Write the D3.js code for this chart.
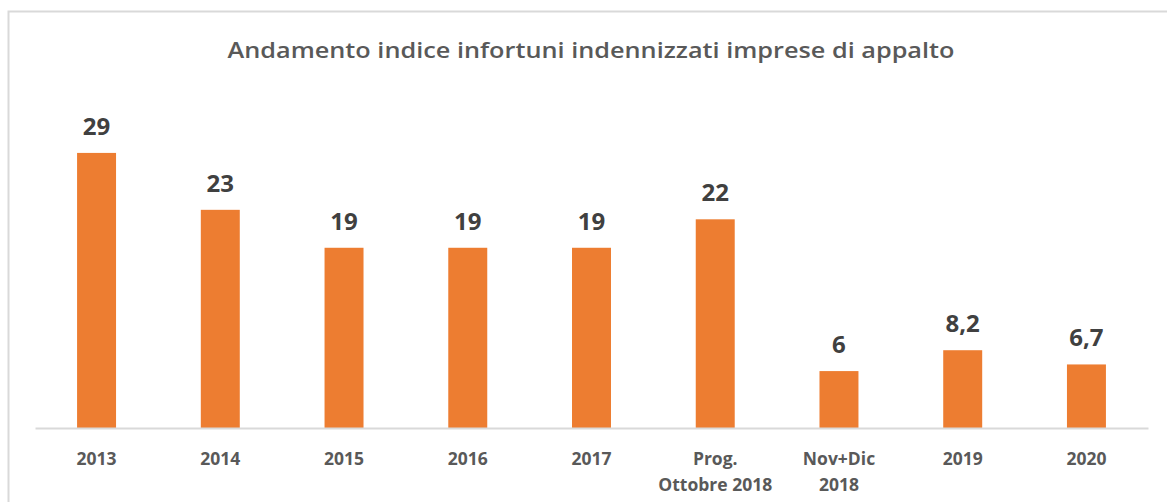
<!DOCTYPE html>
<html>
<head>
<meta charset="utf-8">
<script src="https://cdn.jsdelivr.net/npm/d3@7"></script>
<style>
  body { margin: 0; background: #fff; }
  text { font-family: "Open Sans", "Liberation Sans", sans-serif; }
</style>
</head>
<body>
<svg id="chart"></svg>
<script>
// categories (multi-line labels split on \n)
const categories = ['2013', '2014', '2015', '2016', '2017', 'Prog.\nOttobre 2018', 'Nov+Dic\n2018', '2019', '2020'];
const values = [29, 23, 19, 19, 19, 22, 6, 8.2, 6.7];
const valueLabels = ['29', '23', '19', '19', '19', '22', '6', '8,2', '6,7'];

const width = 1167;
const height = 502;

const svg = d3.select('#chart')
  .attr('width', width)
  .attr('height', height);

// chart frame (right and bottom fall outside the picture)
svg.append('rect')
  .attr('x', 8.5)
  .attr('y', 11.5)
  .attr('width', 1180)
  .attr('height', 520)
  .attr('fill', '#fff')
  .attr('stroke', '#d9d9d9')
  .attr('stroke-width', 2);

svg.append('text')
  .attr('x', 591)
  .attr('y', 58)
  .attr('text-anchor', 'middle')
  .attr('fill', '#595959')
  .attr('font-size', 21)
  .attr('font-weight', 600)
  .attr('textLength', 727)
  .attr('lengthAdjust', 'spacingAndGlyphs')
  .text('Andamento indice infortuni indennizzati imprese di appalto');

const x = d3.scaleBand()
  .domain(categories)
  .range([35, 1148])
  .paddingInner(0.685)
  .paddingOuter(0.34);

const y = d3.scaleLinear()
  .domain([0, 35])
  .range([428, 96]);

const data = categories.map((c, i) => ({ cat: c, value: values[i], label: valueLabels[i] }));

svg.selectAll('.bar')
  .data(data)
  .enter().append('rect')
  .attr('class', 'bar')
  .attr('x', d => x(d.cat))
  .attr('width', x.bandwidth())
  .attr('y', d => y(d.value))
  .attr('height', d => y(0) - y(d.value))
  .attr('fill', '#ed7d31');

svg.selectAll('.val')
  .data(data)
  .enter().append('text')
  .attr('class', 'val')
  .attr('x', d => x(d.cat) + x.bandwidth() / 2)
  .attr('y', d => y(d.value) - 18)
  .attr('text-anchor', 'middle')
  .attr('fill', '#404040')
  .attr('font-size', 24)
  .attr('font-weight', 700)
  .text(d => d.label);

const axis = svg.append('g')
  .attr('transform', `translate(0, ${y(0)})`)
  .call(d3.axisBottom(x).tickSize(0).tickFormat(''));

axis.select('.domain')
  .attr('stroke', '#d9d9d9')
  .attr('stroke-width', 2);

// tick labels, possibly on two lines
const tickText = axis.selectAll('.tick')
  .append('text')
  .attr('y', 37)
  .attr('text-anchor', 'middle')
  .attr('fill', '#595959')
  .attr('font-size', 17.5)
  .attr('font-weight', 700);

tickText.each(function(d) {
  const lines = d.split('\n');
  d3.select(this).selectAll('tspan')
    .data(lines)
    .enter().append('tspan')
    .attr('x', 0)
    .attr('dy', (l, i) => i === 0 ? 0 : 26)
    .text(l => l);
});
</script>
</body>
</html>
